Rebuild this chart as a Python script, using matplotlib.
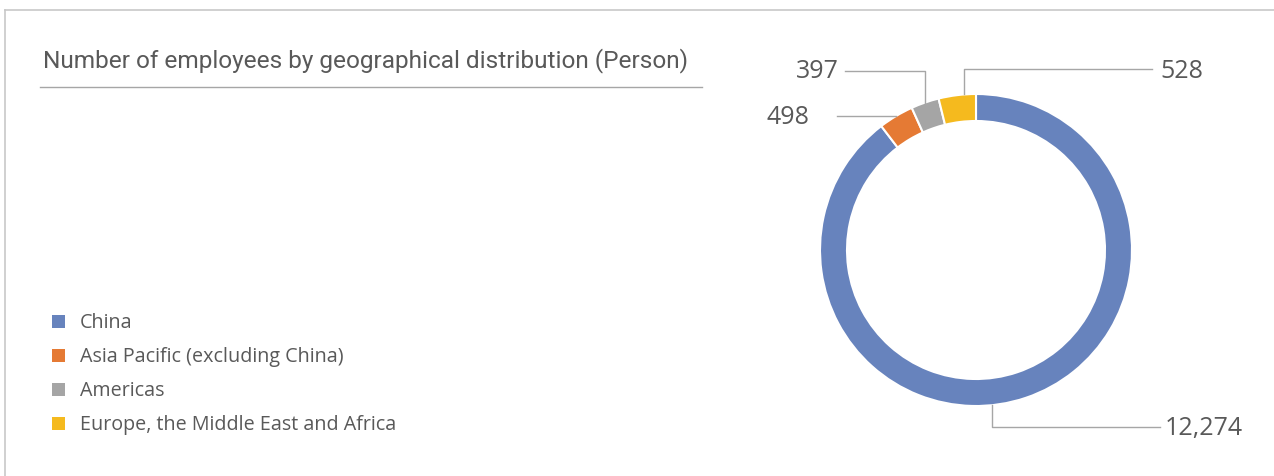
import matplotlib.pyplot as plt
import numpy as np
from matplotlib.lines import Line2D
from matplotlib.patches import Rectangle

categories = ["China", "Asia Pacific (excluding China)", "Americas",
              "Europe, the Middle East and Africa"]
employees = [12274, 498, 397, 528]
colors = ["#6783BD", "#E57A34", "#A5A5A5", "#F5BA1E"]
title = "Number of employees by geographical distribution (Person)"

W, H = 1274, 476
TXT = "#595959"
LEAD = "#A6A6A6"

fig = plt.figure(figsize=(W / 100, H / 100), dpi=100)
ax = fig.add_axes([0, 0, 1, 1])


def py(y):
    return H - y


# outer frame (top + left) and title underline
ax.add_line(Line2D([5, W], [py(10), py(10)], color="#C8C8C8", lw=1.2))
ax.add_line(Line2D([5, 5], [py(10), 0], color="#C8C8C8", lw=1.2))
ax.add_line(Line2D([40, 702], [py(87), py(87)], color="#A6A6A6", lw=1))

ax.text(43, py(61), title, fontsize=17.6, family="Roboto",
        color=TXT, va="center", ha="left")

# donut
cx, cy, r = 976, py(250), 156
wedges, _ = ax.pie(employees, colors=colors, startangle=90, counterclock=False,
                   center=(cx, cy), radius=r, frame=True,
                   wedgeprops=dict(width=27, edgecolor="white", linewidth=1.5))
ax.set_xlim(0, W)
ax.set_ylim(0, H)
ax.set_aspect("equal")
ax.axis("off")

# leader lines: (anchor angle or None for mid, elbow points, text pos, ha)
label_layout = [
    (-84, [(None, py(427)), (1160, py(427))], (1165, py(429)), "left"),
    (None, [(837, None)], (809, py(117)), "right"),
    (None, [(None, py(71)), (845, py(71))], (839, py(71)), "right"),
    (94.5, [(None, py(69)), (1152, py(69))], (1160, py(71)), "left"),
]

for w, val, (ang, path, tpos, ha) in zip(wedges, employees, label_layout):
    if ang is None:
        ang = (w.theta1 + w.theta2) / 2
    x0 = cx + r * np.cos(np.radians(ang))
    y0 = cy + r * np.sin(np.radians(ang))
    xs, ys = [x0], [y0]
    for px_, py_ in path:
        xs.append(xs[-1] if px_ is None else px_)
        ys.append(ys[-1] if py_ is None else py_)
    ax.add_line(Line2D(xs, ys, color=LEAD, lw=1))
    ax.text(tpos[0], tpos[1], f"{val:,}", fontsize=18, color=TXT,
            family="Open Sans", ha=ha, va="center")

# legend
for i, (cat, col) in enumerate(zip(categories, colors)):
    yc = py(321 + i * 34.3)
    ax.add_patch(Rectangle((52, yc - 6.5), 13, 13, color=col, lw=0))
    ax.text(80, yc - 1.5, cat, fontsize=14.2, color=TXT, family="Open Sans",
            ha="left", va="center")

fig.savefig("out.png", dpi=100)
